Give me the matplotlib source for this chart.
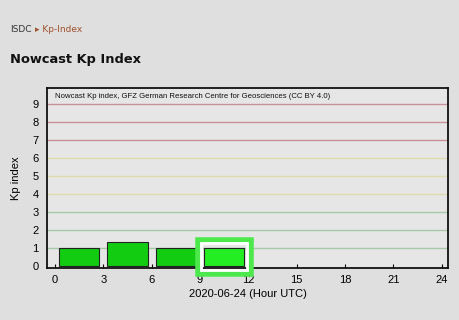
import matplotlib
matplotlib.use("Agg")
import matplotlib.pyplot as plt
from matplotlib.patches import Rectangle

# Kp values, one bar per 3-hour interval
horas = [0, 3, 6, 9]
kp = [1.0, 1.33, 1.0, 1.0]
cores_barras = ["#11cc11", "#11cc11", "#11cc11", "#22ee22"]
ticks_x = [0, 3, 6, 9, 12, 15, 18, 21, 24]
ticks_y = list(range(10))
cores_grade = {1: "#a8c8a8", 2: "#a8c8a8", 3: "#a8c8a8",
               4: "#dcdcb0", 5: "#dcdcb0", 6: "#dcdcb0",
               7: "#c8909a", 8: "#c8909a", 9: "#c8909a"}

fig = plt.figure(figsize=(4.6, 3.2), dpi=100)
fig.patch.set_facecolor("#dfdfdf")

fig.text(10 / 460, 1 - 29 / 320, "ISDC", fontsize=6.5, color="#333333",
         family="DejaVu Sans", va="center")
fig.text(35 / 460, 1 - 29 / 320, "▸ Kp-Index", fontsize=6.5, color="#a0522d",
         family="DejaVu Sans", va="center")
fig.text(10 / 460, 1 - 60 / 320, "Nowcast Kp Index", fontsize=9.4,
         fontweight="bold", color="#111111", family="DejaVu Sans", va="center")

ax = fig.add_axes([47 / 460, 1 - 268 / 320, 401 / 460, 180 / 320])
ax.set_facecolor("#e6e6e6")

for nivel, cor in cores_grade.items():
    ax.axhline(nivel, color=cor, lw=1.0, zorder=1)

ax.bar([h + 1.5 for h in horas], kp, width=2.5, color=cores_barras,
       edgecolor="#222222", linewidth=0.8, zorder=3)

# destaque em volta da barra das 9h
ax.add_patch(Rectangle((8.85, -0.42), 3.3, 1.9, fill=False, edgecolor="#4ce84c",
                       lw=4, clip_on=False, zorder=4))
ax.add_patch(Rectangle((9.05, -0.2), 2.9, 1.5, fill=False, edgecolor="white",
                       lw=2, clip_on=False, zorder=4))

ax.set_xlim(-0.5, 24.4)
ax.set_ylim(-0.1, 9.9)
ax.set_xticks(ticks_x)
ax.set_yticks(ticks_y)
ax.tick_params(axis="x", direction="in", length=3, width=0.8, labelsize=8, pad=5)
ax.tick_params(axis="y", length=0, labelsize=8, pad=6)
for lab in ax.get_xticklabels() + ax.get_yticklabels():
    lab.set_family("Liberation Sans")
for s in ax.spines.values():
    s.set_linewidth(1.3)
    s.set_color("#111111")

ax.set_ylabel("Kp index", fontsize=8, family="Liberation Sans", labelpad=8)
ax.set_xlabel("2020-06-24 (Hour UTC)", fontsize=8, family="Liberation Sans", labelpad=3)
ax.text(0.02, 0.975, "Nowcast Kp index, GFZ German Research Centre for Geosciences (CC BY 4.0)",
        transform=ax.transAxes, fontsize=5.6, family="Liberation Sans", va="top",
        color="#111111")

fig.savefig("out.png", dpi=100, facecolor=fig.get_facecolor())
